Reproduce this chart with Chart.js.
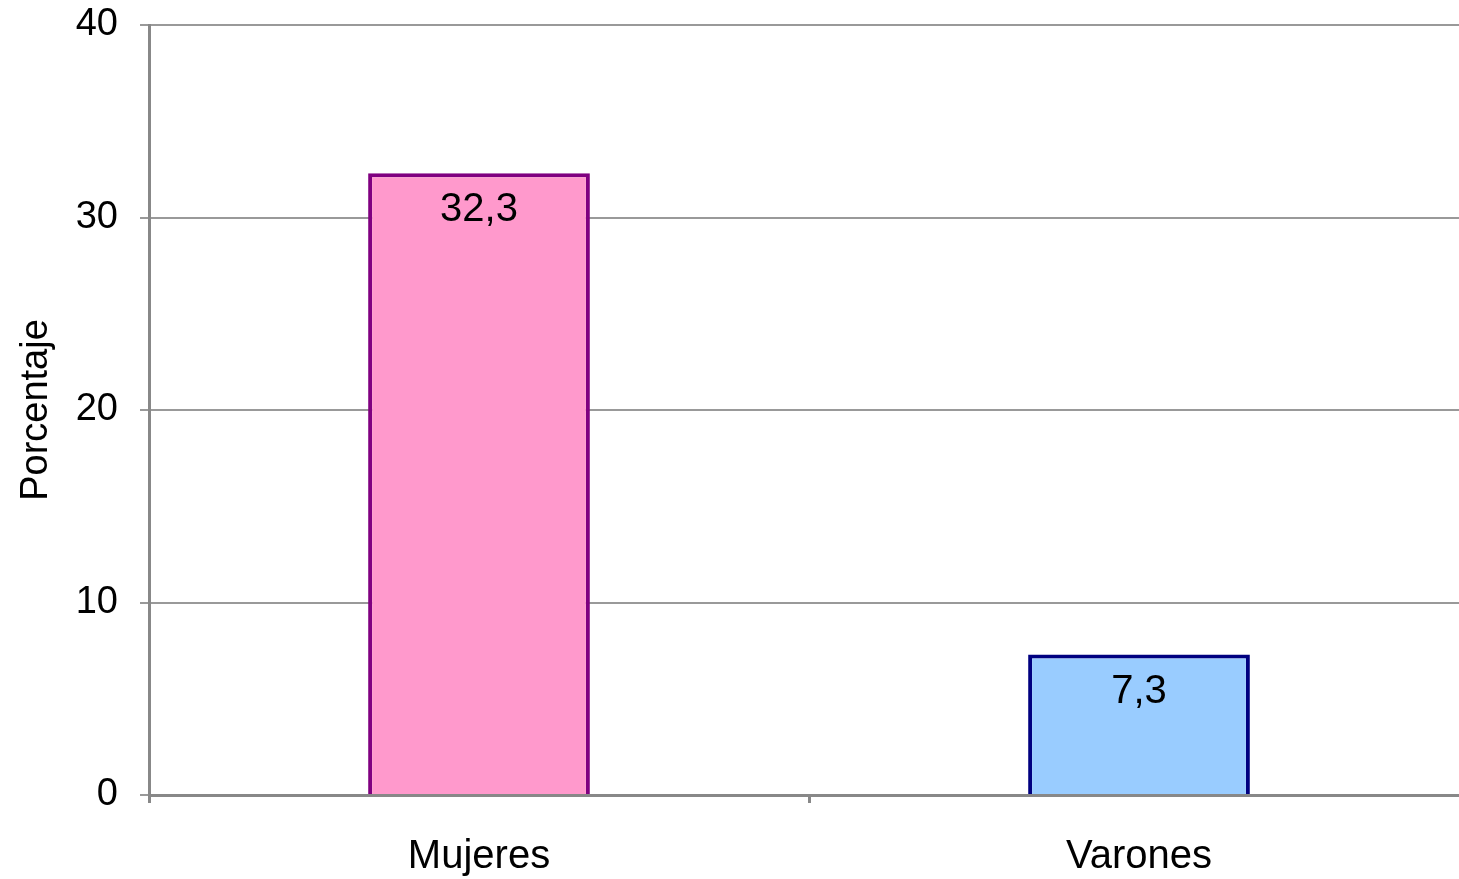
<!DOCTYPE html>
<html>
<head>
<meta charset="utf-8">
<script src="https://cdn.jsdelivr.net/npm/chart.js@4"></script>
<style>
  html, body { margin: 0; padding: 0; background: #fff; overflow: hidden; }
  #wrap { width: 1469px; height: 879px; }
</style>
</head>
<body>
<div id="wrap"><canvas id="myChart"></canvas></div>
<script>
const categories = ['Mujeres', 'Varones'];
const values = [32.3, 7.3];
const fills = ['#FF99CC', '#99CCFF'];
const borders = ['#800080', '#000080'];
const yTicks = [0, 10, 20, 30, 40];

Chart.defaults.font.family = 'Arial, "Liberation Sans", sans-serif';
Chart.defaults.color = '#000';

// write the value inside the top of each bar, with a comma
const barLabels = {
  id: 'barLabels',
  afterDatasetsDraw(chart) {
    const c = chart.ctx;
    const meta = chart.getDatasetMeta(0);
    c.save();
    c.font = '40px Arial, "Liberation Sans", sans-serif';
    c.fillStyle = '#000';
    c.textAlign = 'center';
    c.textBaseline = 'middle';
    meta.data.forEach((bar, i) => {
      c.fillText(values[i].toFixed(1).replace('.', ','), bar.x, bar.y + 37);
    });
    c.restore();
  }
};

var ctx = document.getElementById('myChart').getContext('2d');
let myChart = new Chart(ctx, {
  type: 'bar',
  data: {
    labels: categories,
    datasets: [{
      data: values,
      backgroundColor: fills,
      borderColor: borders,
      borderWidth: 4,
      barPercentage: 0.336,
      categoryPercentage: 1
    }]
  },
  options: {
    responsive: true,
    maintainAspectRatio: false,
    animation: false,
    layout: { padding: { top: 25, left: 0, right: 0, bottom: 0 } },
    plugins: {
      legend: { display: false },
      tooltip: { enabled: false }
    },
    scales: {
      x: {
        offset: true,
        grid: {
          offset: true,
          drawOnChartArea: false,
          drawTicks: true,
          tickLength: 8,
          color: '#888',
          lineWidth: 3
        },
        border: { color: '#888', width: 3 },
        ticks: { font: { size: 40 }, color: '#000', padding: 30 },
        afterFit(scale) { scale.height = 84; }
      },
      y: {
        min: 0,
        max: 40,
        afterBuildTicks(scale) { scale.ticks = yTicks.map(v => ({ value: v })); },
        grid: {
          color: '#999',
          lineWidth: 2,
          tickLength: 9,
          drawTicks: true
        },
        border: { color: '#888', width: 3 },
        ticks: { font: { size: 38 }, color: '#000', padding: 22 },
        title: {
          display: true,
          text: 'Porcentaje',
          font: { size: 38 },
          color: '#000',
          padding: { top: 14, bottom: 0 }
        },
        afterFit(scale) {
          scale.width = 149;
          scale.paddingTop = 0;
          scale.paddingBottom = 0;
        }
      }
    }
  },
  plugins: [barLabels]
});
</script>
</body>
</html>
